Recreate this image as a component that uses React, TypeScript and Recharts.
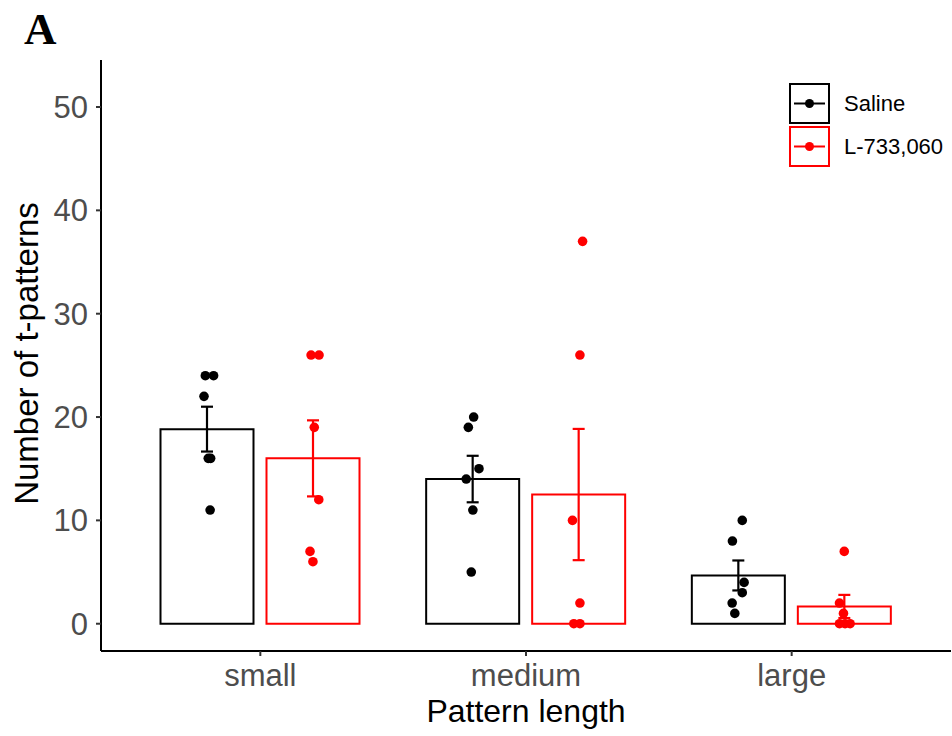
import { ComposedChart, Bar, ErrorBar, Scatter, XAxis, YAxis } from "recharts";

const categories = ["small", "medium", "large"];
const salineMean = [18.83, 14.0, 4.67];
const salineSE = [2.17, 2.25, 1.45];
const drugMean = [16.0, 12.5, 1.67];
const drugSE = [3.68, 6.35, 1.12];

// individual animals
const salinePoints = [
  [24, 24, 22, 16, 16, 11],
  [20, 19, 15, 14, 11, 5],
  [10, 8, 4, 3, 2, 1],
];
const drugPoints = [
  [26, 26, 19, 12, 7, 6],
  [37, 26, 10, 2, 0, 0],
  [7, 2, 1, 0, 0, 0],
];
// horizontal jitter of each point (category units)
const salineJitter = [
  [-0.007, 0.024, -0.012, 0.004, 0.013, 0.011],
  [0.003, -0.017, 0.023, -0.025, 0, -0.006],
  [0.014, -0.023, 0.021, 0.014, -0.024, -0.014],
];
const drugJitter = [
  [-0.009, 0.021, 0.003, 0.02, -0.013, -0.002],
  [0.013, 0.003, -0.025, 0.003, -0.02, 0.003],
  [-0.002, -0.02, -0.005, -0.02, 0.001, 0.02],
];
const yTicks = [0, 10, 20, 30, 40, 50];

const SALINE = "#000000";
const DRUG = "#FF0000";
const FONT = "'Liberation Sans', Arial, sans-serif";
const DODGE = 0.2;
const Y_DOMAIN = [-2.64, 54.55];
const PAD = { left: 26.5, right: 26.5 };

const barData = categories.map((name, i) => ({
  name,
  saline: salineMean[i],
  salineSE: salineSE[i],
  drug: drugMean[i],
  drugSE: drugSE[i],
}));

const toDots = (pts: number[][], jit: number[][], shift: number) =>
  pts.flatMap((vals, i) => vals.map((y, j) => ({ x: i + 1 + shift + jit[i][j], y })));

const salineDots = toDots(salinePoints, salineJitter, -DODGE);
const drugDots = toDots(drugPoints, drugJitter, DODGE);

const dotShape = (color: string) => (p: any) => <circle cx={p.cx} cy={p.cy} r={4.8} fill={color} />;

const YTitle = (props: any) => {
  const vb = props.viewBox;
  const cy = vb && vb.height ? vb.y + vb.height / 2 - 2 : 353;
  const x = 38;
  return (
    <text x={x} y={cy} transform={`rotate(-90 ${x} ${cy})`} textAnchor="middle" fontSize={33} fill="#000" fontFamily={FONT}>
      Number of t-patterns
    </text>
  );
};

const legendItems = [
  { name: "Saline", color: SALINE },
  { name: "L-733,060", color: DRUG },
];

export default function App() {
  return (
    <div style={{ position: "absolute", left: 0, top: 0, width: 952, height: 736, background: "#fff" }}>
      <ComposedChart
        width={952}
        height={736}
        data={barData}
        margin={{ top: 60, right: 1, bottom: 0, left: 21 }}
        barSize={93}
        barGap={13}
      >
        <XAxis
          xAxisId="cat"
          dataKey="name"
          height={85}
          padding={PAD}
          axisLine={{ stroke: "#000", strokeWidth: 2 }}
          tickLine={{ stroke: "#333", strokeWidth: 2 }}
          tickSize={5}
          tickMargin={8}
          tick={{ fontSize: 31, fill: "#4d4d4d", fontFamily: FONT }}
          label={{ value: "Pattern length", position: "insideBottom", offset: 14, fontSize: 32, fill: "#000", fontFamily: FONT }}
        />
        <XAxis xAxisId="num" dataKey="x" type="number" domain={[0.5, 3.5]} padding={PAD} hide height={0} allowDataOverflow />
        <YAxis
          yAxisId="left"
          width={80}
          domain={Y_DOMAIN}
          ticks={yTicks}
          allowDataOverflow
          axisLine={{ stroke: "#000", strokeWidth: 2 }}
          tickLine={{ stroke: "#333", strokeWidth: 2 }}
          tickSize={5}
          tickMargin={8}
          tick={{ fontSize: 31, fill: "#4d4d4d", fontFamily: FONT }}
          label={(p: any) => <YTitle {...p} />}
        />
        <YAxis yAxisId="pts" dataKey="y" domain={Y_DOMAIN} allowDataOverflow hide width={0} />
        <Bar xAxisId="cat" yAxisId="left" dataKey="saline" fill="#fff" stroke={SALINE} strokeWidth={2} isAnimationActive={false}>
          <ErrorBar dataKey="salineSE" direction="y" width={6} stroke={SALINE} strokeWidth={2.2} />
        </Bar>
        <Bar xAxisId="cat" yAxisId="left" dataKey="drug" fill="#fff" stroke={DRUG} strokeWidth={2} isAnimationActive={false}>
          <ErrorBar dataKey="drugSE" direction="y" width={6} stroke={DRUG} strokeWidth={2.2} />
        </Bar>
        <Scatter xAxisId="num" yAxisId="pts" data={salineDots} dataKey="y" shape={dotShape(SALINE)} isAnimationActive={false} />
        <Scatter xAxisId="num" yAxisId="pts" data={drugDots} dataKey="y" shape={dotShape(DRUG)} isAnimationActive={false} />
      </ComposedChart>
      <svg width={952} height={736} style={{ position: "absolute", left: 0, top: 0, pointerEvents: "none" }}>
        <text x={24} y={44} fontFamily="'Liberation Serif', 'Times New Roman', serif" fontWeight="bold" fontSize={45}>
          A
        </text>
        {legendItems.map((it, k) => {
          const top = 84 + k * 43;
          const cy = top + 19.5;
          return (
            <g key={it.name}>
              <rect x={790} y={top} width={39} height={39} fill="#fff" stroke={it.color} strokeWidth={2} />
              <line x1={794} x2={825} y1={cy} y2={cy} stroke={it.color} strokeWidth={2} />
              <circle cx={809.5} cy={cy} r={4.5} fill={it.color} />
              <text x={844} y={cy} dominantBaseline="central" fontSize={22} fill="#000" fontFamily={FONT}>
                {it.name}
              </text>
            </g>
          );
        })}
      </svg>
    </div>
  );
}
